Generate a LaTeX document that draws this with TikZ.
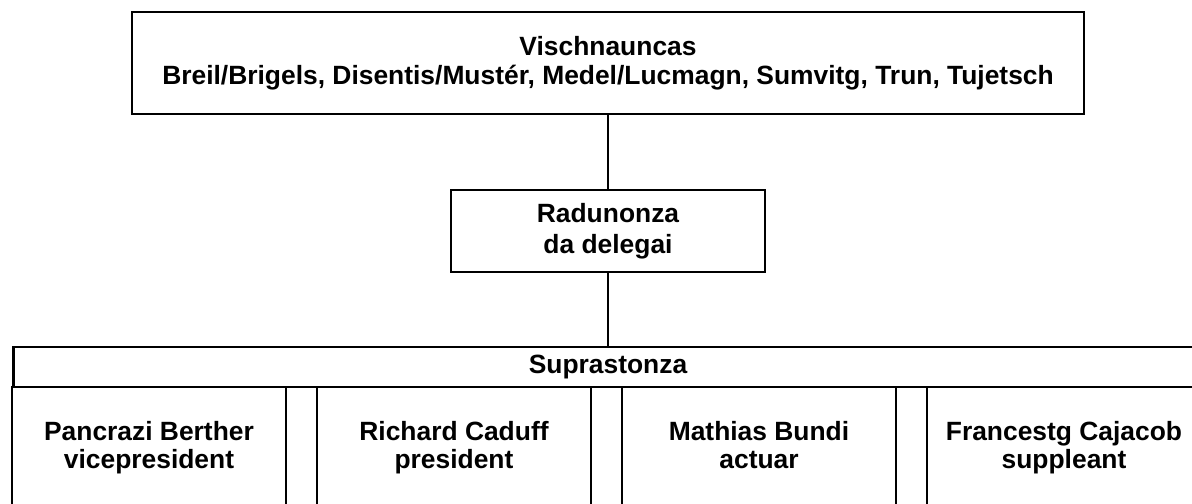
\documentclass[tikz,border=0pt]{standalone}
\usepackage{fontspec}
\setmainfont{Liberation Sans}
\usetikzlibrary{positioning}

\begin{document}
\begin{tikzpicture}[x=0.5pt,y=-0.5pt,-,line width=1.4pt,node distance=152.5pt,
  org node/.style={rectangle,draw,align=center,inner sep=0pt,font=\bfseries\fontsize{13.2}{14.5}\selectfont},
  cell node/.style={rectangle,draw,minimum width=137pt,minimum height=66pt,inner sep=0pt},
  name node/.style={anchor=north,align=center,inner sep=0pt,font=\bfseries\fontsize{13.2}{14}\selectfont}]

  \useasboundingbox (0,0) rectangle (1192,503);
  \clip (0,0) rectangle (1192,503);

  \node[org node,minimum width=476pt,minimum height=51pt] (V) at (608,63) {\strut Vischnauncas\\Breil/Brigels, Disentis/Mustér, Medel/Lucmagn, Sumvitg, Trun, Tujetsch};
  \node[org node,minimum width=157pt,minimum height=41pt,font=\bfseries\fontsize{13.2}{15.5}\selectfont] (R) [below of=V,node distance=84pt] {Radunonza\\da delegai};
  \node[org node,minimum width=594.5pt,minimum height=20pt] (S) [below of=R,node distance=68pt] {Suprastonza};

  % members
  \node[cell node] (c1) at (149,453) {};
  \node[cell node] (c2) [right of=c1] {};
  \node[cell node] (c3) [right of=c2] {};
  \node[cell node] (c4) [right of=c3] {};

  \node[name node] (n1) at ([yshift=-16.7pt]c1.north) {\strut Pancrazi Berther\\vicepresident};
  \node[name node] (n2) at ([yshift=-16.7pt]c2.north) {\strut Richard Caduff\\president};
  \node[name node] (n3) at ([yshift=-16.7pt]c3.north) {\strut Mathias Bundi\\actuar};
  \node[name node] (n4) at ([yshift=-16.7pt]c4.north) {\strut Francestg Cajacob\\suppleant};

  \path (V) edge (R)
        (R) edge (S);
\end{tikzpicture}
\end{document}
